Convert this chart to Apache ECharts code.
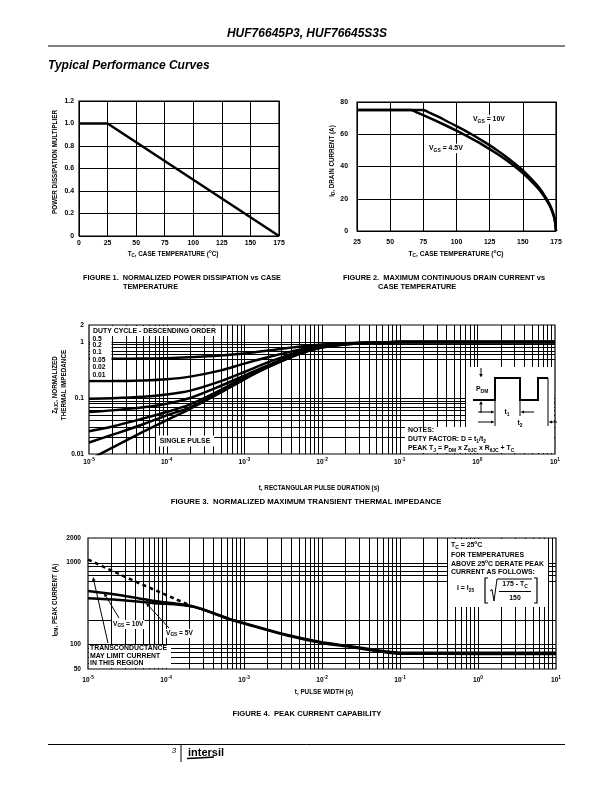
<!DOCTYPE html>
<html><head><meta charset="utf-8">
<script src="https://cdn.jsdelivr.net/npm/echarts@6/dist/echarts.min.js"></script>
<style>html,body{margin:0;padding:0;background:#fff}#c{width:612px;height:792px}</style>
</head><body><div id="c"></div>
<script>
// ---------- DATA ----------
const fig1Temp = [0, 25, 175];
const fig1Mult = [1.0, 1.0, 0];

const fig2Temp10 = [25, 50, 75, 80, 90, 100, 110, 120, 130, 140, 150, 160, 165, 170, 172, 174, 175];
const fig2Id10   = [75, 75, 75, 73.2, 69.3, 65.0, 60.6, 55.7, 50.4, 44.4, 37.6, 29.1, 23.8, 16.8, 13.0, 7.5, 0];
const fig2Temp45 = [25, 50, 66, 70, 80, 90, 100, 110, 120, 130, 140, 150, 160, 165, 170, 172, 174, 175];
const fig2Id45   = [75, 75, 75, 73.6, 70.0, 66.2, 62.2, 57.9, 53.3, 48.2, 42.5, 35.9, 27.8, 22.7, 16.1, 12.4, 7.2, 0];

const fig3Time = [1e-5, 2e-5, 5e-5, 1e-4, 2e-4, 5e-4, 1e-3, 2e-3, 5e-3, 1e-2, 2e-2, 5e-2, 1e-1, 1, 10];
const fig3D05  = [0.50, 0.50, 0.505, 0.51, 0.53, 0.57, 0.62, 0.70, 0.82, 0.90, 0.95, 0.98, 0.99, 1.0, 1.0];
const fig3D02  = [0.20, 0.20, 0.205, 0.215, 0.24, 0.31, 0.41, 0.53, 0.72, 0.85, 0.93, 0.97, 0.99, 1.0, 1.0];
const fig3D01  = [0.097, 0.099, 0.105, 0.115, 0.135, 0.20, 0.29, 0.43, 0.67, 0.83, 0.92, 0.97, 0.99, 1.0, 1.0];
const fig3D005 = [0.056, 0.060, 0.068, 0.079, 0.10, 0.165, 0.25, 0.38, 0.64, 0.82, 0.92, 0.97, 0.99, 1.0, 1.0];
const fig3D002 = [0.0254, 0.031, 0.043, 0.056, 0.077, 0.14, 0.237, 0.37, 0.62, 0.81, 0.91, 0.97, 0.99, 1.0, 1.0];
const fig3D001 = [0.016, 0.022, 0.034, 0.049, 0.068, 0.13, 0.22, 0.355, 0.61, 0.80, 0.91, 0.97, 0.99, 1.0, 1.0];
const fig3Single = [0.0078, 0.013, 0.025, 0.040, 0.064, 0.125, 0.215, 0.35, 0.60, 0.79, 0.90, 0.965, 0.99, 1.0, 1.0];

const fig4TimeDash = [1e-5, 4e-5, 2.2e-4];
const fig4Dash     = [1090, 590, 290];
const fig4Time     = [1e-5, 2.5e-5, 6.7e-5, 2.2e-4, 6.5e-4, 1e-3, 3.5e-3, 1e-2, 2.3e-2, 6e-2, 1e-1, 1, 10];
const fig4I10      = [449, 401, 342, 290, 205, 182, 131, 106, 95, 83, 79.5, 79, 79];
const fig4I5       = [366, 349, 321, 290, 203, 180, 129, 104, 93, 81, 77, 76.5, 76.5];

const fig3YTicks = [0.01, 0.1, 1, 2];
const fig4YTicks = [50, 100, 1000, 2000];
const logXExps   = [-5, -4, -3, -2, -1, 0, 1];
const fig3HGrid  = [0.02, 0.03, 0.04, 0.05, 0.06, 0.07, 0.08, 0.09, 0.1, 0.5, 0.6, 0.7, 0.8, 0.9, 1];
const fig4HGrid  = [60, 70, 80, 90, 100, 200, 600, 700, 800, 900, 1000];
const logMinor   = [1, 2, 3, 4, 5, 6, 7, 8, 9];

// ---------- HELPERS ----------
const FF = '"Liberation Sans", Arial, Helvetica, sans-serif';
const cv = document.createElement('canvas').getContext('2d');
function fontStr(size, weight, italic) { return (italic ? 'italic ' : '') + (weight || 'bold') + ' ' + size + 'px ' + FF; }
function tw(t, size, weight, italic) { cv.font = fontStr(size, weight, italic); return cv.measureText(t).width; }
function rt(x, y, parts, o) {
  o = o || {};
  const size = o.size || 6.3, weight = o.weight || 'bold', italic = !!o.italic;
  const ss = size * 0.72;
  const items = []; let cx = 0;
  parts.forEach(p => {
    const t = typeof p === 'string' ? p : p[0];
    const k = typeof p === 'string' ? 0 : p[1];
    const s = k ? ss : size;
    items.push({ t, s, x: cx, dy: k === 1 ? size * 0.32 : (k === 2 ? -size * 0.38 : 0) });
    cx += tw(t, s, weight, italic);
  });
  const off = o.align === 'left' ? 0 : (o.align === 'right' ? -cx : -cx / 2);
  const children = items.map(it => ({
    type: 'text', z: 200,
    style: { text: it.t, x: it.x + off, y: it.dy, font: fontStr(it.s, weight, italic), fill: '#000',
      textAlign: 'left', textVerticalAlign: 'middle', align: 'left', verticalAlign: 'middle' }
  }));
  if (o.bg) children.unshift({ type: 'rect', z: 120, shape: { x: off - 1, y: -size * 0.6, width: cx + 2, height: size * 1.35 }, style: { fill: '#fff' } });
  return { type: 'group', x, y, rotation: o.rotate || 0, z: 200, children };
}
function ln(x1, y1, x2, y2, w) { return { type: 'line', z: 150, shape: { x1, y1, x2, y2 }, style: { stroke: '#000', lineWidth: w || 1 } }; }
function pl(points, w) { return { type: 'polyline', z: 150, shape: { points }, style: { stroke: '#000', lineWidth: w || 1, fill: null } }; }
function box(x, y, w, h) { return { type: 'rect', z: 100, shape: { x, y, width: w, height: h }, style: { fill: '#fff', stroke: null } }; }
function arrow(x1, y1, x2, y2, hl, hw) {
  hl = hl || 4; hw = hw || 1.8;
  const dx = x2 - x1, dy = y2 - y1, L = Math.hypot(dx, dy), ux = dx / L, uy = dy / L;
  const bx = x2 - ux * hl, by = y2 - uy * hl;
  return [ln(x1, y1, bx, by, 1),
    { type: 'polygon', z: 150, shape: { points: [[x2, y2], [bx - uy * hw, by + ux * hw], [bx + uy * hw, by - ux * hw]] }, style: { fill: '#000' } }];
}
const zip = (a, b) => a.map((v, i) => [v, b[i]]);

// ---------- OPTION ----------
const axisTxt = { color: '#000', fontSize: 6.9, fontWeight: 'bold', fontFamily: FF, showMinLabel: true, showMaxLabel: true };
const linAxis = { axisLine: { show: false }, axisTick: { show: false },
  splitLine: { show: true, lineStyle: { color: '#000', width: 1 } } };
const logAxis = { type: 'log', logBase: 10, axisLine: { show: false }, axisTick: { show: false },
  splitLine: { show: false }, axisLabel: { show: false } };
const gridBase = { show: true, borderColor: '#000', borderWidth: 1.2, backgroundColor: 'transparent', containLabel: false, outerBoundsMode: 'none' };

const curve = (xi, data, w, extra) => Object.assign({
  type: 'line', xAxisIndex: xi, yAxisIndex: xi, data, symbol: 'none', showSymbol: false, z: 5, clip: true,
  lineStyle: { color: '#000', width: w || 2.5 }, emphasis: { disabled: true }, silent: true
}, extra || {});

function decadeLines(lo, hi) { const out = []; for (let e = lo; e < hi; e++) logMinor.forEach(k => out.push(+(k * Math.pow(10, e)).toPrecision(3))); return out; }
const logXGrid = decadeLines(-5, 1).filter(v => v > 1e-5);

function gridSeries(xi, vx, hy, xr, yr) {
  const data = vx.map(v => [v, yr[0], 0]).concat(hy.map(v => [xr[0], v, 1]));
  return {
    type: 'custom', xAxisIndex: xi, yAxisIndex: xi, z: 1, silent: true, clip: false,
    dimensions: ['x', 'y', 't'], encode: { x: 0, y: 1 },
    data,
    renderItem: function (params, api) {
      const t = api.value(2);
      let p1, p2;
      if (t === 0) { p1 = api.coord([api.value(0), yr[0]]); p2 = api.coord([api.value(0), yr[1]]); const x = Math.round(p1[0]) + 0.5; p1[0] = p2[0] = x; }
      else { p1 = api.coord([xr[0], api.value(1)]); p2 = api.coord([xr[1], api.value(1)]); const y = Math.round(p1[1]) + 0.5; p1[1] = p2[1] = y; }
      return { type: 'line', shape: { x1: p1[0], y1: p1[1], x2: p2[0], y2: p2[1] }, style: { stroke: '#000', lineWidth: 1 } };
    }
  };
}

const option = {
  animation: false,
  backgroundColor: '#fff',
  textStyle: { fontFamily: FF, fontWeight: 'bold', color: '#000' },
  grid: [
    Object.assign({ left: 79, top: 101, width: 200, height: 135 }, gridBase),
    Object.assign({ left: 357, top: 102, width: 199, height: 129 }, gridBase),
    Object.assign({ left: 89, top: 325, width: 466, height: 129 }, gridBase),
    Object.assign({ left: 88, top: 538, width: 468, height: 131 }, gridBase)
  ],
  xAxis: [
    Object.assign({ gridIndex: 0, type: 'value', min: 0, max: 175, interval: 25, axisLabel: Object.assign({ margin: 4 }, axisTxt) }, linAxis),
    Object.assign({ gridIndex: 1, type: 'value', min: 25, max: 175, interval: 25, axisLabel: Object.assign({ margin: 8 }, axisTxt) }, linAxis),
    Object.assign({ gridIndex: 2, min: 1e-5, max: 10 }, logAxis),
    Object.assign({ gridIndex: 3, min: 1e-5, max: 10 }, logAxis)
  ],
  yAxis: [
    Object.assign({ gridIndex: 0, type: 'value', min: 0, max: 1.2, interval: 0.2,
      axisLabel: Object.assign({ margin: 5, formatter: v => v === 0 ? '0' : v.toFixed(1) }, axisTxt) }, linAxis),
    Object.assign({ gridIndex: 1, type: 'value', min: 0, max: 80, interval: 20, axisLabel: Object.assign({ margin: 9 }, axisTxt) }, linAxis),
    Object.assign({ gridIndex: 2, min: 0.01, max: 2 }, logAxis),
    Object.assign({ gridIndex: 3, min: 50, max: 2000 }, logAxis)
  ],
  series: [
    curve(0, zip(fig1Temp, fig1Mult), 2.5),
    curve(1, zip(fig2Temp10, fig2Id10), 2.5, { smooth: 0.2 }),
    curve(1, zip(fig2Temp45, fig2Id45), 2.5, { smooth: 0.2 }),
    gridSeries(2, logXGrid, fig3HGrid, [1e-5, 10], [0.01, 2]),
    curve(2, zip(fig3Time, fig3D05), 2.5, { smooth: 0.3 }),
    curve(2, zip(fig3Time, fig3D02), 2.5, { smooth: 0.3 }),
    curve(2, zip(fig3Time, fig3D01), 2.5, { smooth: 0.3 }),
    curve(2, zip(fig3Time, fig3D005), 2.5, { smooth: 0.3 }),
    curve(2, zip(fig3Time, fig3D002), 2.5, { smooth: 0.3 }),
    curve(2, zip(fig3Time, fig3D001), 2.5, { smooth: 0.3 }),
    curve(2, zip(fig3Time, fig3Single), 2.5, { smooth: 0.3 }),
    gridSeries(3, logXGrid, fig4HGrid, [1e-5, 10], [50, 2000]),
    curve(3, zip(fig4TimeDash, fig4Dash), 2.5, { lineStyle: { color: '#000', width: 2.5, type: [4, 3.5] } }),
    curve(3, zip(fig4Time, fig4I10), 2.5, { smooth: 0.3 }),
    curve(3, zip(fig4Time, fig4I5), 2.5, { smooth: 0.3 })
  ]
};

const chart = echarts.init(document.getElementById('c'), null, { renderer: 'canvas' });
chart.setOption(option);

// ---------- TEXT, LABELS, ANNOTATIONS ----------
const g = [];
const R90 = Math.PI / 2;
const A = 6.9; // annotation font size
// header / footer
g.push(rt(307, 34, ['HUF76645P3, HUF76645S3S'], { size: 12, italic: true }));
g.push(ln(48, 46, 565, 46, 1));
g.push(rt(48, 66, ['Typical Performance Curves'], { size: 12, italic: true, align: 'left' }));
g.push(ln(48, 744.5, 565, 744.5, 1));
g.push(ln(181, 744, 181, 762, 1));
g.push(rt(174, 751, ['3'], { size: 8, weight: 'normal', italic: true }));
g.push(rt(188, 753, ['intersil'], { size: 11, align: 'left' }));
g.push({ type: 'polyline', z: 150, shape: { points: [[187, 758.5], [198, 758], [214, 757]] }, style: { stroke: '#000', lineWidth: 1.5, fill: null } });

// Figure 1
g.push(rt(173, 254, ['T', ['C', 1], ', CASE TEMPERATURE (', ['o', 2], 'C)']));
g.push(rt(55, 162, ['POWER DISSIPATION MULTIPLIER'], { rotate: R90 }));
g.push(rt(83, 278, ['FIGURE 1.  NORMALIZED POWER DISSIPATION vs CASE'], { size: 7.3, align: 'left' }));
g.push(rt(123, 287, ['TEMPERATURE'], { size: 7.3, align: 'left' }));

// Figure 2
g.push(rt(456, 254, ['T', ['C', 1], ', CASE TEMPERATURE (', ['o', 2], 'C)'], { size: 6.6 }));
g.push(rt(332, 161, ['I', ['D', 1], ', DRAIN CURRENT (A)'], { rotate: R90 }));
g.push(rt(473, 119, ['V', ['GS', 1], ' = 10V'], { align: 'left', size: A, bg: true }));
g.push(rt(429, 148, ['V', ['GS', 1], ' = 4.5V'], { align: 'left', size: A, bg: true }));
g.push(rt(343, 278, ['FIGURE 2.  MAXIMUM CONTINUOUS DRAIN CURRENT vs'], { size: 7.4, align: 'left' }));
g.push(rt(378, 287, ['CASE TEMPERATURE'], { size: 7.4, align: 'left' }));

// Figure 3 tick labels
fig3YTicks.forEach(v => { const p = chart.convertToPixel({ yAxisIndex: 2 }, v); g.push(rt(84, p, [String(v)], { align: 'right', size: 6.6 })); });
logXExps.forEach(e => { const p = chart.convertToPixel({ xAxisIndex: 2 }, Math.pow(10, e)); g.push(rt(p, 462, ['10', [String(e), 2]], { size: 6.6 })); });
// Figure 3 boxes and texts
g.push(box(90, 326, 131, 10), box(90, 335, 21.5, 44.5));
g.push(rt(93, 331, ['DUTY CYCLE - DESCENDING ORDER'], { align: 'left', size: A }));
[['0.5', 338.7], ['0.2', 345.3], ['0.1', 352.2], ['0.05', 360], ['0.02', 367.5], ['0.01', 374.7]].forEach(a => g.push(rt(92.5, a[1], [a[0]], { align: 'left', size: 6.7 })));
g.push(box(156, 435.5, 58, 11));
g.push(rt(185, 441, ['SINGLE PULSE'], { size: A }));
g.push(box(466, 367, 88, 86), box(405, 427, 149, 26));
g.push(pl([[473, 400], [495, 400], [495, 378], [520, 378], [520, 400], [538, 400], [538, 378], [548, 378]], 2));
g.push(...arrow(481, 368, 481, 377.5, 3.5, 1.8));
g.push(...arrow(481, 413, 481, 401, 3.5, 1.8));
g.push(rt(476, 389, ['P', ['DM', 1]], { align: 'left', size: A }));
g.push(ln(495, 400, 495, 426, 1), ln(520, 400, 520, 416, 1), ln(548, 378, 548, 426, 1));
g.push(...arrow(478, 412, 494.5, 412, 3.5, 1.6));
g.push(...arrow(534, 412, 520.5, 412, 3.5, 1.6));
g.push(rt(507, 412, ['t', ['1', 1]], { size: A }));
g.push(...arrow(478, 422, 494.5, 422, 3.5, 1.6));
g.push(...arrow(557, 422, 548.5, 422, 3.5, 1.6));
g.push(rt(520, 423, ['t', ['2', 1]], { size: A }));
g.push(rt(408, 430, ['NOTES:'], { align: 'left', size: A }));
g.push(rt(408, 439, ['DUTY FACTOR: D = t', ['1', 1], '/t', ['2', 1]], { align: 'left', size: A }));
g.push(rt(408, 448, ['PEAK T', ['J', 1], ' = P', ['DM', 1], ' x Z', ['\u03b8JC', 1], ' x R', ['\u03b8JC', 1], ' + T', ['C', 1]], { align: 'left', size: A }));
g.push(rt(55, 385, ['Z', ['\u03b8JC', 1], ', NORMALIZED'], { rotate: R90 }));
g.push(rt(64, 385, ['THERMAL IMPEDANCE'], { rotate: R90 }));
g.push(rt(319, 488, ['t, RECTANGULAR PULSE DURATION (s)']));
g.push(rt(306, 502, ['FIGURE 3.  NORMALIZED MAXIMUM TRANSIENT THERMAL IMPEDANCE'], { size: 7.8 }));

// Figure 4 tick labels
fig4YTicks.forEach(v => { const p = chart.convertToPixel({ yAxisIndex: 3 }, v); g.push(rt(81, p, [String(v)], { align: 'right', size: 6.6 })); });
logXExps.forEach(e => { const p = chart.convertToPixel({ xAxisIndex: 3 }, Math.pow(10, e)); g.push(rt(p, 680, ['10', [String(e), 2]], { size: 6.6 })); });
// Figure 4 boxes and texts
g.push(box(89, 645, 82, 23));
g.push(rt(90, 648.5, ['TRANSCONDUCTANCE'], { align: 'left', size: A }));
g.push(rt(90, 655.8, ['MAY LIMIT CURRENT'], { align: 'left', size: A }));
g.push(rt(90, 663, ['IN THIS REGION'], { align: 'left', size: A }));
g.push(...arrow(108, 643, 93, 577, 4, 1.8));
g.push(rt(113, 624, ['V', ['GS', 1], ' = 10V'], { align: 'left', size: 6.6, bg: true }));
g.push(...arrow(119, 618, 104, 593, 4, 1.8));
g.push(rt(166, 633, ['V', ['GS', 1], ' = 5V'], { align: 'left', size: 6.6, bg: true }));
g.push(...arrow(169, 628, 146, 603, 4, 1.8));
g.push(box(448, 539, 100, 68));
g.push(rt(451, 545, ['T', ['C', 1], ' = 25', ['o', 2], 'C'], { align: 'left', size: A }));
g.push(rt(451, 555.5, ['FOR TEMPERATURES'], { align: 'left', size: A }));
g.push(rt(451, 564, ['ABOVE 25', ['o', 2], 'C DERATE PEAK'], { align: 'left', size: A }));
g.push(rt(451, 572.5, ['CURRENT AS FOLLOWS:'], { align: 'left', size: A }));
g.push(rt(457, 588, ['I = I', ['25', 1]], { align: 'left', size: A }));
g.push(pl([[488, 578], [485, 578], [485, 603], [488, 603]], 1.2));
g.push(pl([[534, 578], [537, 578], [537, 603], [534, 603]], 1.2));
g.push(pl([[490, 591], [492, 589.5], [494, 601], [497, 579], [532, 579]], 1));
g.push(ln(499, 591.5, 531, 591.5, 1));
g.push(rt(515, 584.5, ['175 - T', ['C', 1]], { size: A }));
g.push(rt(515, 598, ['150'], { size: A }));
g.push(rt(55, 600, ['I', ['DM', 1], ', PEAK CURRENT (A)'], { rotate: R90 }));
g.push(rt(324, 692, ['t, PULSE WIDTH (s)']));
g.push(rt(307, 714, ['FIGURE 4.  PEAK CURRENT CAPABILITY'], { size: 7.6 }));

chart.setOption({ graphic: { elements: g } });
</script>
</body></html>
